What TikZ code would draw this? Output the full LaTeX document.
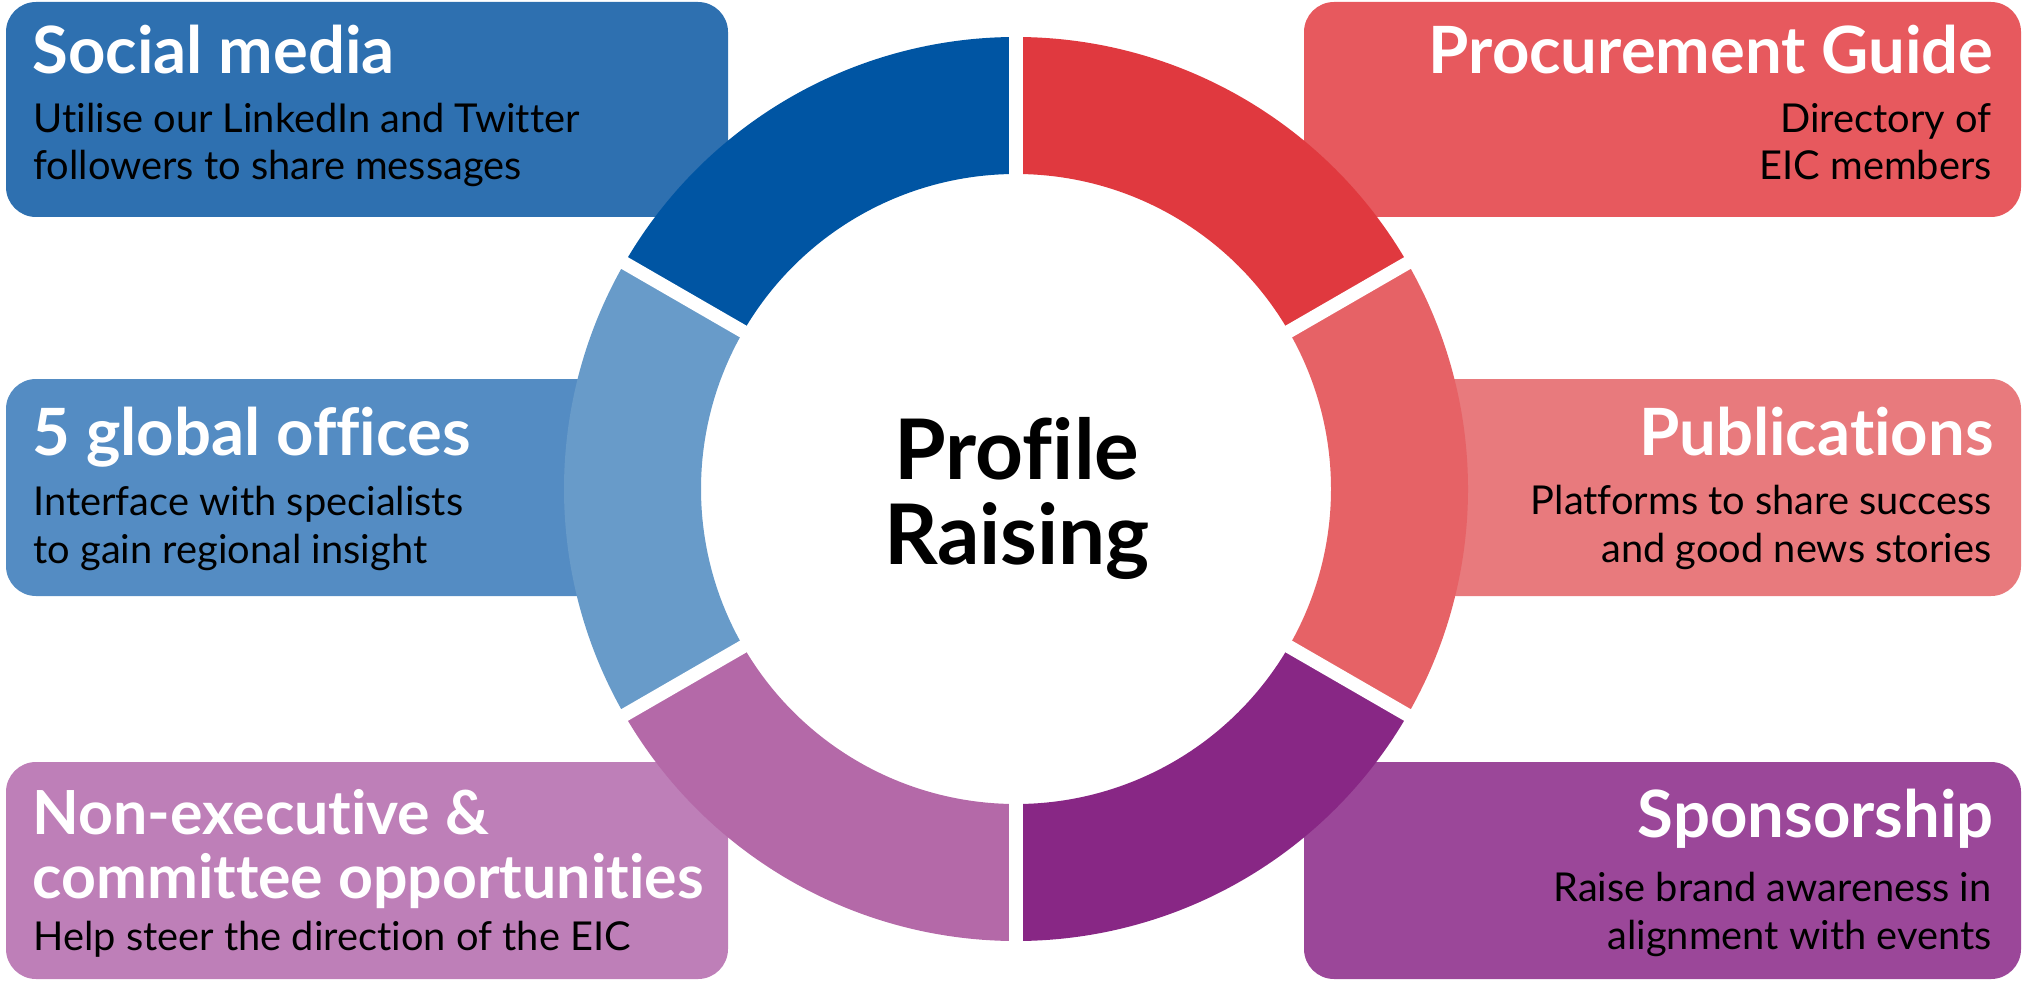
\documentclass[tikz,border=0pt]{standalone}
\usepackage{fontspec}
\setmainfont{Lato}[Ligatures={NoCommon}]
\definecolor{boxSoc}{HTML}{2E70B0}
\definecolor{boxGlo}{HTML}{548CC3}
\definecolor{boxNon}{HTML}{BE7FB8}
\definecolor{boxPro}{HTML}{E7595E}
\definecolor{boxPub}{HTML}{E87A7D}
\definecolor{boxSpo}{HTML}{9B4799}
\definecolor{rSoc}{HTML}{0055A3}
\definecolor{rGlo}{HTML}{689BC9}
\definecolor{rNon}{HTML}{B469A8}
\definecolor{rPro}{HTML}{E0393F}
\definecolor{rPub}{HTML}{E66266}
\definecolor{rSpo}{HTML}{882785}
\newcommand{\ttlfont}{\fontsize{32.6pt}{36pt}\selectfont\bfseries}
\newcommand{\ttlsmallfont}{\fontsize{30.4pt}{34pt}\selectfont\bfseries}
\newcommand{\bdyfont}{\fontsize{19.9pt}{24pt}\selectfont}
\newcommand{\ctrfont}{\fontsize{41.8pt}{44pt}\selectfont\bfseries}
\tikzset{
  infobox/.style={rounded corners=15pt},
  ttl/.style={font=\ttlfont, text=white, inner sep=0pt},
  ttlsmall/.style={font=\ttlsmallfont, text=white, inner sep=0pt},
  bdy/.style={font=\bdyfont, text=black, inner sep=0pt},
  ctr/.style={font=\ctrfont, text=black, inner sep=0pt, anchor=base},
  gapline/.style={white, line width=6.7pt},
}
\newcommand{\ringseg}[3]{%
  \fill[#3] (#1:226pt) arc[start angle=#1, end angle=#2, radius=226pt]
    -- (#2:157.5pt) arc[start angle=#2, end angle=#1, radius=157.5pt] -- cycle;}
\begin{document}
\begin{tikzpicture}[x=0.5pt,y=0.5pt]
\useasboundingbox (0,0) rectangle (2027,982);
% boxes
\fill[boxSoc, infobox] (6,765) rectangle (728,980);
\fill[boxGlo, infobox] (6,386) rectangle (670,603);
\fill[boxNon, infobox] (6,3) rectangle (728,220);
\fill[boxPro, infobox] (1304,765) rectangle (2021,980);
\fill[boxPub, infobox] (1360,386) rectangle (2021,603);
\fill[boxSpo, infobox] (1304,3) rectangle (2021,220);
% ring
\coordinate (c) at (1016,493);
\begin{scope}[shift={(c)}]
  \ringseg{90}{150}{rSoc}
  \ringseg{150}{210}{rGlo}
  \ringseg{210}{270}{rNon}
  \ringseg{270}{330}{rSpo}
  \ringseg{330}{390}{rPub}
  \ringseg{30}{90}{rPro}
  \foreach \a in {30,90,150,210,270,330}
    \draw[gapline] (0,0) -- (\a:228pt);
\end{scope}
% centre text
\node[ctr] (cA) at (1017,502.7) {Profile};
\node[ctr] (cB) at (1017,417.7) {Raising};
% left texts
\node[ttl, anchor=base west] (s1) at (32,908.7) {Social media};
\node[bdy, anchor=base west] (s2) at (33,849.3) {Utilise our LinkedIn and Twitter};
\node[bdy, anchor=base west] (s3) at (33,802) {followers to share messages};
\node[ttl, anchor=base west] (g1) at (32,527) {5 global offices};
\node[bdy, anchor=base west] (g2) at (33,467) {Interface with specialists};
\node[bdy, anchor=base west] (g3) at (33,418.7) {to gain regional insight};
\node[ttlsmall, anchor=base west] (n1) at (32,147.7) {Non-executive \&};
\node[ttlsmall, anchor=base west] (n2) at (32,83.7) {committee opportunities};
\node[bdy, anchor=base west] (n3) at (33,31.7) {Help steer the direction of the EIC};
% right texts
\node[ttl, anchor=base east] (p1) at (1994,908.7) {Procurement Guide};
\node[bdy, anchor=base east] (p2) at (1992,849.3) {Directory of};
\node[bdy, anchor=base east] (p3) at (1992,802) {EIC members};
\node[ttl, anchor=base east] (u1) at (1994,527) {Publications};
\node[bdy, anchor=base east] (u2) at (1992,467.7) {Platforms to share success};
\node[bdy, anchor=base east] (u3) at (1992,419.3) {and good news stories};
\node[ttl, anchor=base east] (o1) at (1994,144.3) {Sponsorship};
\node[bdy, anchor=base east] (o2) at (1992,80.3) {Raise brand awareness in};
\node[bdy, anchor=base east] (o3) at (1992,32.7) {alignment with events};
\end{tikzpicture}
\end{document}
